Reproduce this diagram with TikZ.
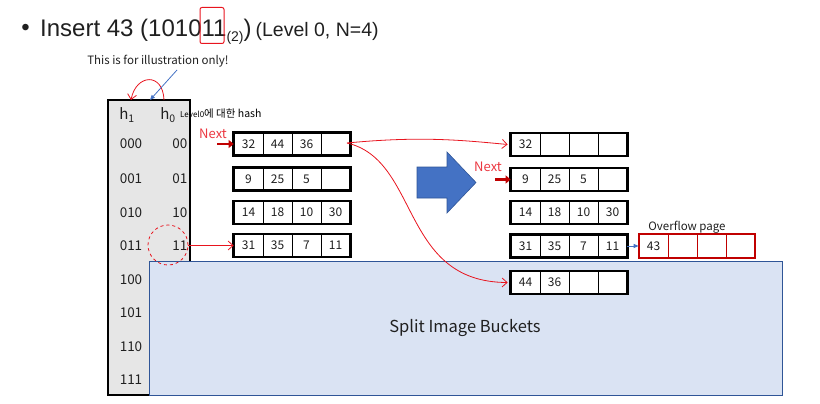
\documentclass[tikz,border=0pt]{standalone}
\usepackage{fontspec}
\setmainfont{Liberation Sans}
\newfontfamily\kr{Noto Sans CJK KR}
\usetikzlibrary{arrows.meta}
\definecolor{grayfill}{HTML}{E6E6E6}
\definecolor{bluefill}{HTML}{DAE3F3}
\definecolor{blueedge}{HTML}{2F5597}
\definecolor{bigblue}{HTML}{4472C4}
\definecolor{redline}{HTML}{E8141E}
\definecolor{nextred}{HTML}{C00000}
\definecolor{ovred}{HTML}{C00000}
\definecolor{txt}{HTML}{202020}
\newcommand\bkt[8]{%
  \node[#8] (#1-1) at (#2+14.5,#3) {#4};
  \node[#8] (#1-2) at (#2+43.5,#3) {#5};
  \node[#8] (#1-3) at (#2+72.5,#3) {#6};
  \node[#8] (#1-4) at (#2+101.5,#3) {#7};
}
\begin{document}
\begin{tikzpicture}[x=1pt,y=-1pt,
  cell/.style={draw, fill=white, line width=0.7pt, minimum width=29pt, minimum height=22.5pt, inner sep=0, font=\kr\fontsize{12}{14}\selectfont, text=txt},
  ovcell/.style={cell, draw=ovred},
  frame/.style={line width=2.6pt},
  ovframe/.style={line width=2pt, draw=ovred},
  rowlab/.style={inner sep=0, font=\kr\fontsize{13.5}{16}\selectfont, text=txt},
  redcurve/.style={draw=redline, line width=0.8pt, -{Straight Barb[length=5pt,width=9pt]}},
  nextarrow/.style={draw=nextred, line width=2.2pt, -{Triangle[length=5pt,width=8pt]}},
  nexttext/.style={inner sep=0, text=redline!85!white, font=\kr\fontsize{13}{15}\selectfont},
  smalltext/.style={inner sep=0, font=\kr\fontsize{11.5}{13}\selectfont, text=txt},
  bluearrow/.style={draw=bigblue, line width=0.8pt, -{Triangle[length=5pt,width=4pt]}}
]
\useasboundingbox (0,0) rectangle (820,404);

% title
\node[inner sep=0, font=\fontsize{24}{28}\selectfont, text=txt] (bullet) at (25.5,30) {•};
\node[anchor=base west, inner sep=0, font=\fontsize{24}{28}\selectfont, text=txt] (title) at (40,37)
  {Insert 43 (101011\raisebox{-5pt}{\fontsize{14}{16}\selectfont (2)})\hspace{4pt}{\fontsize{19.5}{22}\selectfont (Level 0, N=4)}};
\node[draw=redline, line width=1pt, rounded corners=2pt, minimum width=24pt, minimum height=36pt, inner sep=0] (hl) at (212,25.5) {};

% note
\node[smalltext] (note) at (158,61) {This is for illustration only!};

% directory box
\node[draw, line width=1.2pt, fill=grayfill, minimum width=82pt, minimum height=295pt, inner sep=0] (dir) at (149,247.5) {};

% split image region
\node[draw=blueedge, line width=0.8pt, fill=bluefill, minimum width=633pt, minimum height=134pt, inner sep=0] (split) at (465.5,328) {};
\node[inner sep=0, font=\kr\fontsize{16.5}{19}\selectfont, text=txt] (splittext) at (465,328) {Split Image Buckets};

% h labels
\node[rowlab, font=\kr\fontsize{15}{17}\selectfont] (h1) at (127,115) {h\textsubscript{1}};
\node[rowlab, font=\kr\fontsize{15}{17}\selectfont] (h0) at (168,115) {h\textsubscript{0}};
\node[inner sep=0, anchor=west, text=black] (lvl) at (180,114) {\kr{\fontsize{8}{10}\selectfont Level0}{\fontsize{10.5}{12}\selectfont 에 대한 hash}};

\coordinate (hA) at (164,100);
\coordinate (hB) at (131,100);
\draw[redcurve] (hA) .. controls (163,72) and (136,74) .. (hB);
\coordinate (nb) at (150,100);
\draw[bluearrow] (177,70) -- (nb);

% row labels
\foreach \n/\a/\b/\y in {0/000/00/144,1/001/01/179,2/010/10/212.5,3/011/11/245.5}{
  \node[rowlab] (ra\n) at (131,\y) {\a};
  \node[rowlab, anchor=east] (rb\n) at (187.5,\y) {\b};
}
\foreach \n/\a/\y in {4/100/280,5/101/313,6/110/347,7/111/380}{
  \node[rowlab] (ra\n) at (131,\y) {\a};
}
\node[draw=redline, dashed, line width=0.8pt, circle, minimum size=40pt, inner sep=0] (circ) at (168,245) {};

% left buckets
\bkt{L0}{234}{144}{32}{44}{36}{}{cell}
\bkt{L1}{234}{179}{9}{25}{5}{}{cell}
\bkt{L2}{234}{212.5}{14}{18}{10}{30}{cell}
\bkt{L3}{234}{245.5}{31}{35}{7}{11}{cell}
\foreach \b in {L0,L1,L2,L3}{\draw[frame] (\b-1.north west) rectangle (\b-4.south east);}

% right buckets
\bkt{R0}{511}{144.5}{32}{}{}{}{cell}
\bkt{R1}{511}{179.5}{9}{25}{5}{}{cell}
\bkt{R2}{511}{212.5}{14}{18}{10}{30}{cell}
\bkt{R3}{511}{246}{31}{35}{7}{11}{cell}
\bkt{R4}{511}{282.5}{44}{36}{}{}{cell}
\foreach \b in {R0,R1,R2,R3,R4}{\draw[frame] (\b-1.north west) rectangle (\b-4.south east);}

% overflow page
\bkt{OV}{639}{246}{43}{}{}{}{ovcell}
\draw[ovframe] (OV-1.north west) rectangle (OV-4.south east);
\node[smalltext] (ovtext) at (687,227.5) {Overflow page};
\draw[bluearrow] (R3-4.east) -- (OV-1.west);

% next pointers
\node[nexttext] (next1) at (213,134) {Next};
\coordinate (n1s) at (217,144);
\draw[nextarrow] (n1s) -- (L0-1.west);
\node[nexttext] (next2) at (488,167) {Next};
\coordinate (n2s) at (495,179.5);
\draw[nextarrow] (n2s) -- (R1-1.west);

% big arrow
\draw[fill=bigblue, draw=blueedge, line width=0.6pt] (417,167) -- (447,167) -- (447,152) -- (476,182.5) -- (447,213) -- (447,198) -- (417,198) -- cycle;

% red arrows
\draw[redcurve] (rb3.east) -- (L3-1.west);
\coordinate (split0) at (347,143);
\draw[redcurve] (split0) .. controls (420,136) and (460,140) .. ([xshift=-3pt]R0-1.west);
\draw[redcurve] (split0) .. controls (420,160) and (400,282) .. ([xshift=-3pt]R4-1.west);
\end{tikzpicture}
\end{document}
